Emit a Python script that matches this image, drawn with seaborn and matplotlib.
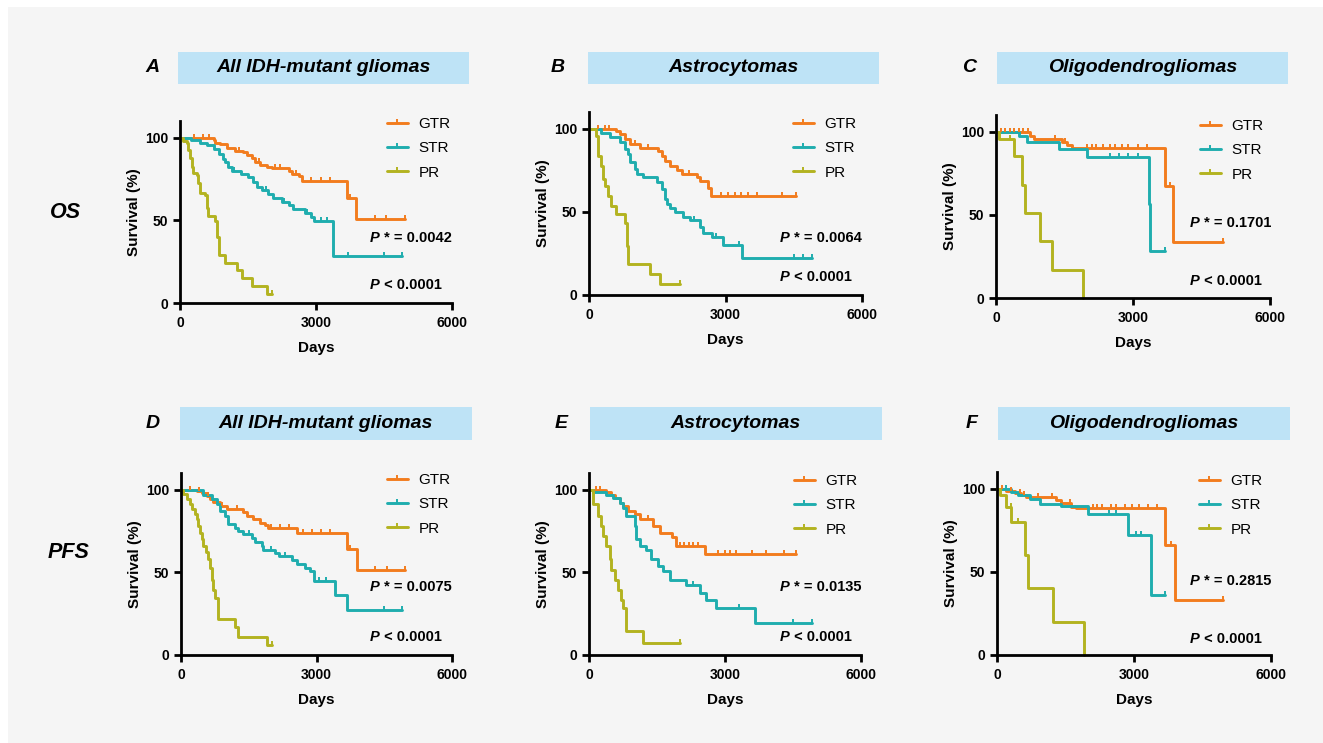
import numpy as np
import pandas as pd
import matplotlib.pyplot as plt
import seaborn as sns
from matplotlib.patches import Rectangle
from matplotlib.lines import Line2D

# Kaplan-Meier step points (days, survival %), plus censor ticks
groups = ['GTR', 'STR', 'PR']
colors = ['#f27c1e', '#1fadae', '#b3b320']

# A: OS, all IDH-mutant gliomas
A_GTR_t = [0, 740, 780, 880, 1045, 1215, 1400, 1470, 1580, 1655, 1770, 1915, 2025, 2395, 2465, 2615, 2690, 3680, 3890, 4970]
A_GTR_s = [100, 98.5, 97, 96, 93.5, 92, 91, 89.5, 87.5, 85.5, 83.5, 82.5, 81.5, 79.5, 78, 76.5, 73.5, 63.5, 50.5, 50.5]
A_GTR_c = [300, 500, 650, 1300, 1750, 2100, 2200, 2550, 2900, 3100, 3300, 3750, 4300, 4550, 4970]
A_STR_t = [0, 250, 450, 600, 750, 850, 950, 1000, 1050, 1150, 1350, 1500, 1600, 1700, 1800, 1950, 2050, 2250, 2400, 2500, 2750, 2900, 2950, 3380, 4900]
A_STR_s = [100, 98.5, 97, 95.5, 93, 90, 87, 85, 82, 80, 78, 76, 73, 70, 68, 66, 63.5, 61, 59, 57, 54.5, 52, 49.5, 28.5, 28.5]
A_STR_c = [1200, 1900, 2300, 2800, 3100, 3250, 3700, 4500, 4900]
A_PR_t = [0, 75, 150, 185, 220, 260, 295, 370, 405, 440, 550, 590, 625, 775, 810, 850, 995, 1250, 1360, 1580, 1915, 2025]
A_PR_s = [100, 98, 96.5, 92.5, 87.5, 82.5, 78.5, 77.5, 72.5, 66.5, 65.5, 57.5, 52.5, 49.5, 40, 29, 24, 20, 15, 10, 5.5, 5.5]
A_PR_c = [2025]

# B: OS, astrocytomas
B_GTR_t = [0, 600, 675, 785, 895, 1115, 1520, 1595, 1665, 1775, 1925, 2035, 2365, 2440, 2620, 2675, 4555]
B_GTR_s = [100, 98.5, 97, 93.5, 90.5, 88.5, 86.5, 83.5, 80.5, 77.5, 75, 72.5, 71, 68.5, 64.5, 59.5, 59.5]
B_GTR_c = [200, 350, 450, 1000, 1300, 2200, 2900, 3050, 3200, 3350, 3500, 3700, 4250, 4555]
B_STR_t = [0, 270, 455, 675, 785, 860, 895, 1005, 1045, 1190, 1485, 1595, 1665, 1705, 1775, 1885, 2070, 2220, 2440, 2510, 2695, 2950, 3355, 4900]
B_STR_s = [100, 97.5, 95, 92, 88, 85, 80, 76, 73, 71, 68, 64, 58, 55, 52, 50, 47, 45, 41, 37, 35, 30, 22.5, 22.5]
B_STR_c = [2300, 2800, 3300, 4500, 4700, 4900]
B_PR_t = [0, 160, 200, 270, 310, 345, 420, 490, 600, 785, 835, 860, 1335, 1555, 2000]
B_PR_s = [100, 95.5, 83.5, 77.5, 69.5, 65.5, 59.5, 53.5, 48.5, 43.5, 29.5, 18.5, 12.5, 6.5, 6.5]
B_PR_c = [2000]

# C: OS, oligodendrogliomas
C_GTR_t = [0, 750, 825, 1445, 1555, 1660, 3700, 3885, 4980]
C_GTR_s = [100, 97.5, 95.5, 93.5, 92, 90, 67.5, 33.5, 33.5]
C_GTR_c = [100, 200, 300, 400, 500, 600, 700, 1300, 1500, 2000, 2100, 2200, 2350, 2500, 2600, 2750, 2900, 3100, 3300, 3800, 4980]
C_STR_t = [0, 495, 680, 1370, 1990, 3340, 3375, 3705]
C_STR_s = [100, 97.5, 94, 89.5, 85, 56.5, 28, 28]
C_STR_c = [2500, 2700, 2900, 3100, 3705]
C_PR_t = [0, 60, 385, 570, 640, 970, 1225, 1915]
C_PR_s = [100, 95.5, 85.5, 68, 51, 34, 17, 0]
C_PR_c = [300]

# D: PFS, all IDH-mutant gliomas
D_GTR_t = [0, 125, 345, 460, 570, 645, 715, 865, 1010, 1380, 1455, 1605, 1750, 1860, 1935, 2565, 3670, 3895, 4965]
D_GTR_s = [100, 99.5, 99, 97.8, 96, 94.3, 92.3, 90.3, 88.5, 86.5, 84, 82, 80, 78.5, 76.5, 74, 64, 51.5, 51.5]
D_GTR_c = [200, 400, 600, 900, 1250, 2000, 2200, 2400, 2700, 2900, 3100, 3300, 3750, 4300, 4550, 4965]
D_STR_t = [0, 495, 680, 790, 865, 975, 1050, 1195, 1270, 1380, 1565, 1640, 1790, 1825, 2085, 2160, 2455, 2565, 2750, 2860, 2935, 3415, 3670, 4890]
D_STR_s = [100, 97, 94.5, 91.5, 87, 84, 79, 77, 75, 73, 71, 68, 66, 63.5, 61.5, 60, 57.5, 55, 52.5, 50.5, 44.5, 36.5, 27, 27]
D_STR_c = [1500, 2000, 2300, 3050, 3200, 4500, 4890]
D_PR_t = [0, 50, 125, 200, 235, 310, 345, 385, 420, 460, 495, 555, 605, 645, 680, 715, 755, 830, 1195, 1270, 1900, 2010]
D_PR_s = [100, 97.5, 94.5, 91.5, 88, 85, 82, 78, 74, 70, 66, 62, 58, 52.5, 45.5, 39.5, 34.5, 22, 17, 11, 6, 6]
D_PR_c = [2010]

# E: PFS, astrocytomas
E_GTR_t = [0, 385, 495, 565, 675, 750, 860, 1010, 1120, 1415, 1560, 1820, 1930, 2555, 4565]
E_GTR_s = [100, 98.5, 97, 95, 92, 90, 87, 85, 82.5, 78, 74, 71.5, 66, 61, 61]
E_GTR_c = [150, 250, 1300, 2000, 2100, 2200, 2300, 2400, 2850, 3000, 3100, 3250, 3600, 3900, 4300, 4565]
E_STR_t = [0, 90, 385, 530, 675, 750, 825, 1010, 1045, 1120, 1265, 1375, 1525, 1635, 1780, 2150, 2445, 2590, 2810, 3660, 4910]
E_STR_s = [100, 98.5, 97, 95, 92, 89, 84, 78, 70, 66, 63.5, 58, 53.5, 50.5, 45.5, 42.5, 37.5, 33.5, 28.5, 19.5, 19.5]
E_STR_c = [2300, 2600, 3300, 4500, 4910]
E_PR_t = [0, 90, 200, 270, 310, 385, 455, 495, 565, 640, 715, 750, 825, 1195, 2000]
E_PR_s = [100, 91, 84, 78, 72, 66, 58, 51.5, 45.5, 39.5, 33.5, 28.5, 14.5, 7, 7]
E_PR_c = [2000]

# F: PFS, oligodendrogliomas
F_GTR_t = [0, 205, 385, 535, 640, 1300, 1410, 1630, 1735, 3670, 3890, 4950]
F_GTR_s = [100, 98.8, 97.2, 96.2, 94.8, 93.2, 91.5, 89.2, 88.2, 66, 33.3, 33.3]
F_GTR_c = [100, 300, 500, 600, 900, 1200, 1600, 2100, 2200, 2300, 2500, 2600, 2800, 2950, 3100, 3300, 3500, 3800, 4950]
F_STR_t = [0, 315, 460, 715, 935, 1410, 1995, 2870, 3380, 3670]
F_STR_s = [100, 98, 96, 94, 91, 89.5, 85, 72, 36, 36]
F_STR_c = [200, 2450, 2600, 3050, 3150, 3670]
F_PR_t = [0, 60, 205, 315, 605, 680, 1225, 1900]
F_PR_s = [100, 96, 89, 80, 60, 40, 20, 0]
F_PR_c = [300, 450]

panel_letters = ['A', 'B', 'C', 'D', 'E', 'F']
panel_titles = ['All IDH-mutant gliomas', 'Astrocytomas', 'Oligodendrogliomas'] * 2
p_star = ['0.0042', '0.0064', '0.1701', '0.0075', '0.0135', '0.2815']
p_all = ['0.0001'] * 6
row_labels = ['OS', 'PFS']

curves = {
    'A': [(A_GTR_t, A_GTR_s, A_GTR_c), (A_STR_t, A_STR_s, A_STR_c), (A_PR_t, A_PR_s, A_PR_c)],
    'B': [(B_GTR_t, B_GTR_s, B_GTR_c), (B_STR_t, B_STR_s, B_STR_c), (B_PR_t, B_PR_s, B_PR_c)],
    'C': [(C_GTR_t, C_GTR_s, C_GTR_c), (C_STR_t, C_STR_s, C_STR_c), (C_PR_t, C_PR_s, C_PR_c)],
    'D': [(D_GTR_t, D_GTR_s, D_GTR_c), (D_STR_t, D_STR_s, D_STR_c), (D_PR_t, D_PR_s, D_PR_c)],
    'E': [(E_GTR_t, E_GTR_s, E_GTR_c), (E_STR_t, E_STR_s, E_STR_c), (E_PR_t, E_PR_s, E_PR_c)],
    'F': [(F_GTR_t, F_GTR_s, F_GTR_c), (F_STR_t, F_STR_s, F_STR_c), (F_PR_t, F_PR_s, F_PR_c)],
}

# layout in pixels of the 1323x743 canvas
W, H = 1323, 743
axes_px = [(180, 452, 121, 303), (589, 862, 112, 295), (996, 1270, 115, 298),
           (181, 452, 473, 655), (589, 861, 473, 655), (997, 1271, 472, 655)]
box_px = [(178, 469, 52, 84), (588, 879, 52, 84), (997, 1288, 52, 84),
          (180, 472, 407, 440), (590, 882, 407, 440), (998, 1290, 407, 440)]
letter_x = [152, 558, 969, 153, 561, 972]
legend_px = [(387, 123), (793, 123), (1200, 125), (387, 479), (794, 480), (1199, 480)]
pstar_px = [(370, 238), (780, 238), (1190, 223), (370, 587), (780, 587), (1190, 581)]
pall_px = [(370, 285), (780, 277), (1190, 281), (370, 637), (780, 637), (1190, 639)]

sns.set_style('ticks')
plt.rcParams['font.family'] = ['Liberation Sans', 'DejaVu Sans']
plt.rcParams['font.weight'] = 'bold'
plt.rcParams['axes.labelweight'] = 'bold'
plt.rcParams['text.color'] = 'black'
plt.rcParams['axes.labelcolor'] = 'black'

fig = plt.figure(figsize=(W / 100, H / 100), dpi=100)
fig.patch.set_facecolor('white')
fig.add_artist(Rectangle((8 / W, 0), 1 - 8 / W, 1 - 7 / H, transform=fig.transFigure,
                         facecolor='#f5f5f5', edgecolor='none', zorder=0))


def surv_at(t, s, x):
    i = np.searchsorted(t, x, side='right') - 1
    return s[max(i, 0)]


for i, letter in enumerate(panel_letters):
    l, r, top, bot = axes_px[i]
    ax = fig.add_axes([l / W, 1 - bot / H, (r - l) / W, (bot - top) / H])
    ax.set_facecolor('none')

    frames = []
    for g, (t, s, c) in zip(groups, curves[letter]):
        frames.append(pd.DataFrame({'day': t, 'surv': s, 'group': g}))
    df = pd.concat(frames, ignore_index=True)
    sns.lineplot(data=df, x='day', y='surv', hue='group', hue_order=groups, palette=colors,
                 drawstyle='steps-post', estimator=None, sort=False, linewidth=2.1,
                 legend=False, ax=ax, clip_on=False)
    for (t, s, c), col in zip(curves[letter], colors):
        cy = [surv_at(t, s, x) for x in c]
        ax.plot(c, cy, ls='none', marker=2, ms=3, mew=1.4, color=col, clip_on=False)

    ax.set_xlim(0, 6000)
    ax.set_ylim(0, 110)
    ax.set_xticks([0, 3000, 6000])
    ax.set_yticks([0, 50, 100])
    ax.set_xlabel('Days', fontsize=11, labelpad=8)
    ax.set_ylabel('Survival (%)', fontsize=11, labelpad=3)
    sns.despine(ax=ax)
    for sp in ['left', 'bottom']:
        ax.spines[sp].set_linewidth(2)
        ax.spines[sp].set_color('black')
    ax.tick_params(width=2, length=5, labelsize=10, color='black', labelcolor='black')
    ax.tick_params(axis='x', pad=4.5)

    handles = [Line2D([], [], color=col, lw=2.1, marker=2, ms=3, mew=1.4) for col in colors]
    lx, ly = legend_px[i]
    ax.legend(handles, groups, loc='upper left', bbox_to_anchor=(lx / W, 1 - (ly - 6) / H),
              bbox_transform=fig.transFigure, frameon=False, borderpad=0, borderaxespad=0,
              handlelength=1.35, handletextpad=0.7, labelspacing=0.68,
              prop={'weight': 'normal', 'size': 11})

    # p-values
    for (px, py), txt in [(pstar_px[i], ' * = ' + p_star[i]), (pall_px[i], ' < ' + p_all[i])]:
        pt = fig.text(px / W, 1 - py / H, 'P', fontsize=10.5, fontweight='bold', style='italic',
                      va='center', ha='left')
        ax.annotate(txt, xy=(1, 0.5), xycoords=pt, fontsize=10.5, fontweight='bold',
                    va='center', ha='left', annotation_clip=False)

    # title box
    bl, br, bt, bb = box_px[i]
    fig.add_artist(Rectangle((bl / W, 1 - bb / H), (br - bl) / W, (bb - bt) / H,
                             transform=fig.transFigure, facecolor='#bee3f6', edgecolor='none'))
    fig.text((bl + br) / 2 / W, 1 - (bt + bb) / 2 / H, panel_titles[i], fontsize=14,
             fontweight='bold', style='italic', ha='center', va='center')
    fig.text(letter_x[i] / W, 1 - (bt + bb) / 2 / H, letter, fontsize=14,
             fontweight='bold', style='italic', ha='center', va='center')

fig.text(66 / W, 1 - 213 / H, row_labels[0], fontsize=15.5, fontweight='bold', style='italic',
         ha='center', va='center')
fig.text(69 / W, 1 - 553 / H, row_labels[1], fontsize=15.5, fontweight='bold', style='italic',
         ha='center', va='center')

fig.savefig('out.png', dpi=100, facecolor=fig.get_facecolor())
